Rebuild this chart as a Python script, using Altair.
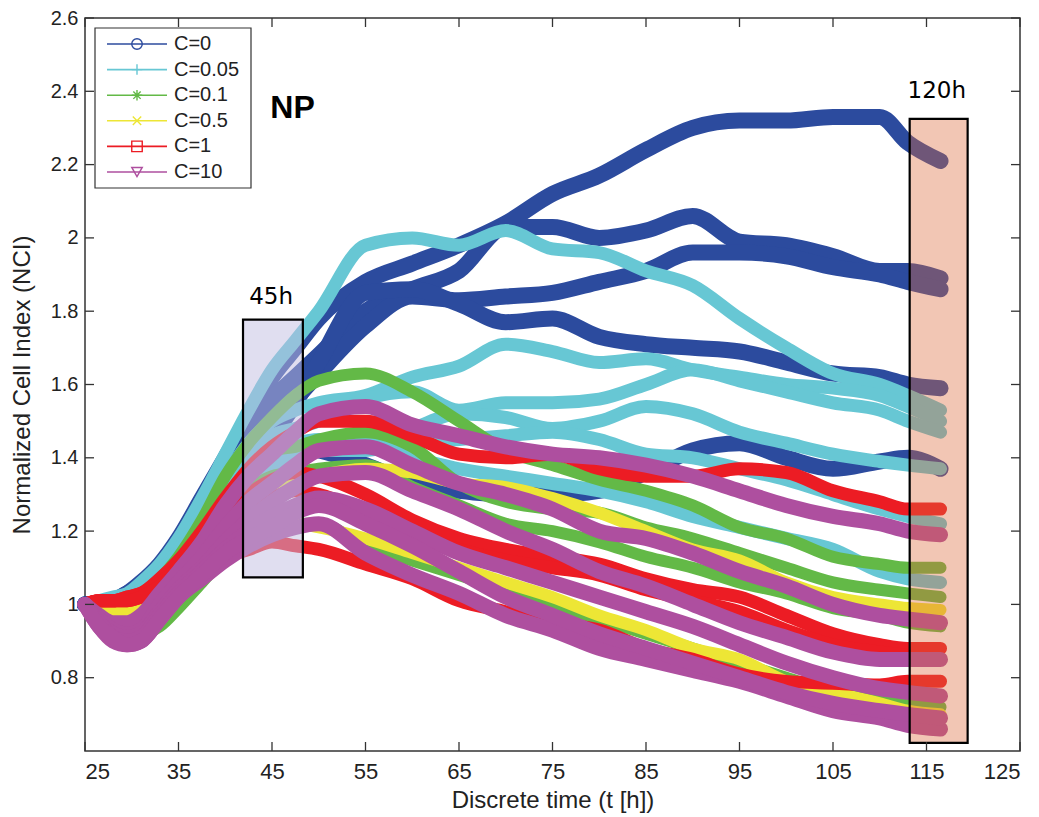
import altair as alt
import pandas as pd

# ---------------- data ----------------
time_h = [25, 26.5, 28, 29.5, 31, 33, 35, 37.5, 40, 42.5, 45, 47.5, 50, 55, 60, 65,
          70, 75, 80, 85, 90, 95, 100, 105, 110, 113, 116.5]

c0_lines = [
    [1.00, 1.00, 1.01, 1.03, 1.06, 1.11, 1.18, 1.29, 1.40, 1.51, 1.62, 1.70, 1.78, 1.88, 1.93, 1.98, 2.04, 2.12, 2.17, 2.24, 2.30, 2.32, 2.32, 2.33, 2.33, 2.26, 2.21],
    [1.00, 1.00, 1.01, 1.03, 1.05, 1.10, 1.17, 1.27, 1.38, 1.48, 1.56, 1.62, 1.68, 1.80, 1.86, 1.91, 2.03, 2.03, 2.00, 2.02, 2.06, 1.99, 1.98, 1.95, 1.91, 1.91, 1.89],
    [1.00, 1.00, 1.01, 1.02, 1.05, 1.09, 1.15, 1.25, 1.35, 1.44, 1.50, 1.56, 1.63, 1.76, 1.84, 1.83, 1.84, 1.85, 1.88, 1.91, 1.96, 1.96, 1.95, 1.92, 1.90, 1.88, 1.86],
    [1.00, 1.00, 1.01, 1.02, 1.04, 1.08, 1.14, 1.23, 1.33, 1.41, 1.46, 1.55, 1.66, 1.85, 1.86, 1.82, 1.77, 1.78, 1.73, 1.71, 1.70, 1.69, 1.66, 1.63, 1.62, 1.60, 1.59],
    [1.00, 1.00, 1.01, 1.02, 1.04, 1.08, 1.13, 1.22, 1.31, 1.37, 1.42, 1.43, 1.42, 1.38, 1.33, 1.31, 1.30, 1.30, 1.31, 1.36, 1.42, 1.44, 1.40, 1.37, 1.39, 1.40, 1.37],
]
c005_lines = [
    [1.00, 1.01, 1.02, 1.03, 1.06, 1.11, 1.18, 1.29, 1.41, 1.53, 1.64, 1.72, 1.80, 1.98, 2.00, 1.98, 2.02, 1.97, 1.96, 1.91, 1.87, 1.78, 1.70, 1.63, 1.60, 1.57, 1.53],
    [1.00, 1.00, 1.01, 1.02, 1.05, 1.09, 1.15, 1.25, 1.35, 1.44, 1.50, 1.53, 1.55, 1.57, 1.62, 1.65, 1.71, 1.69, 1.66, 1.67, 1.64, 1.62, 1.60, 1.59, 1.57, 1.54, 1.50],
    [1.00, 1.00, 1.01, 1.02, 1.04, 1.08, 1.14, 1.23, 1.32, 1.40, 1.46, 1.48, 1.50, 1.56, 1.58, 1.53, 1.55, 1.55, 1.56, 1.60, 1.64, 1.61, 1.58, 1.55, 1.53, 1.50, 1.47],
    [1.00, 1.00, 1.01, 1.02, 1.04, 1.08, 1.13, 1.22, 1.30, 1.37, 1.42, 1.44, 1.45, 1.44, 1.48, 1.52, 1.51, 1.48, 1.50, 1.54, 1.52, 1.47, 1.44, 1.41, 1.39, 1.38, 1.37],
    [1.00, 1.00, 1.01, 1.02, 1.04, 1.07, 1.12, 1.20, 1.28, 1.35, 1.40, 1.41, 1.42, 1.42, 1.44, 1.45, 1.46, 1.47, 1.45, 1.41, 1.40, 1.37, 1.34, 1.30, 1.26, 1.24, 1.22],
    [1.00, 1.00, 1.01, 1.02, 1.04, 1.07, 1.12, 1.19, 1.27, 1.33, 1.37, 1.40, 1.42, 1.43, 1.40, 1.37, 1.35, 1.33, 1.31, 1.28, 1.24, 1.21, 1.18, 1.15, 1.09, 1.07, 1.06],
]
c01_lines = [
    [1.00, 1.00, 1.00, 1.01, 1.03, 1.07, 1.13, 1.23, 1.35, 1.44, 1.51, 1.57, 1.61, 1.63, 1.58, 1.50, 1.42, 1.38, 1.34, 1.31, 1.27, 1.21, 1.18, 1.13, 1.11, 1.10, 1.10],
    [1.00, 0.99, 0.98, 0.99, 1.01, 1.05, 1.10, 1.19, 1.28, 1.36, 1.42, 1.43, 1.45, 1.47, 1.43, 1.33, 1.28, 1.26, 1.25, 1.21, 1.18, 1.14, 1.10, 1.06, 1.04, 1.03, 1.02],
    [1.00, 0.98, 0.97, 0.97, 0.99, 1.03, 1.08, 1.16, 1.24, 1.31, 1.35, 1.36, 1.37, 1.38, 1.32, 1.27, 1.22, 1.20, 1.17, 1.13, 1.10, 1.06, 1.03, 0.99, 0.97, 0.95, 0.94],
    [1.00, 0.96, 0.93, 0.92, 0.92, 0.94, 0.99, 1.06, 1.13, 1.18, 1.22, 1.22, 1.22, 1.16, 1.12, 1.08, 1.04, 1.00, 0.96, 0.92, 0.88, 0.84, 0.80, 0.76, 0.74, 0.73, 0.72],
]
c05_lines = [
    [1.00, 0.99, 0.98, 0.98, 1.00, 1.04, 1.09, 1.16, 1.23, 1.28, 1.31, 1.33, 1.35, 1.37, 1.36, 1.33, 1.32, 1.29, 1.25, 1.20, 1.15, 1.12, 1.06, 1.02, 1.00, 0.99, 0.985],
    [1.00, 0.98, 0.96, 0.95, 0.96, 0.99, 1.04, 1.10, 1.16, 1.20, 1.22, 1.22, 1.21, 1.18, 1.14, 1.10, 1.06, 1.02, 0.97, 0.93, 0.88, 0.85, 0.79, 0.76, 0.73, 0.71, 0.70],
]
c1_lines = [
    [1.00, 1.01, 1.01, 1.02, 1.03, 1.07, 1.12, 1.20, 1.29, 1.37, 1.43, 1.47, 1.50, 1.50, 1.46, 1.41, 1.40, 1.41, 1.37, 1.35, 1.35, 1.37, 1.36, 1.31, 1.28, 1.26, 1.26],
    [1.00, 1.01, 1.01, 1.01, 1.02, 1.04, 1.07, 1.10, 1.13, 1.15, 1.17, 1.16, 1.15, 1.11, 1.07, 1.01, 0.98, 0.95, 0.93, 0.88, 0.85, 0.81, 0.79, 0.785, 0.78, 0.79, 0.79],
    [1.00, 1.01, 1.01, 1.02, 1.03, 1.06, 1.10, 1.17, 1.24, 1.30, 1.34, 1.36, 1.35, 1.30, 1.23, 1.18, 1.15, 1.13, 1.11, 1.07, 1.04, 1.02, 0.97, 0.92, 0.89, 0.88, 0.88],
    [1.00, 1.01, 1.01, 1.01, 1.02, 1.05, 1.09, 1.15, 1.21, 1.26, 1.29, 1.31, 1.30, 1.25, 1.19, 1.15, 1.12, 1.10, 1.08, 1.04, 1.01, 0.98, 0.93, 0.89, 0.87, 0.86, 0.85],
]
c10_lines = [
    [1.00, 0.97, 0.95, 0.95, 0.97, 1.03, 1.09, 1.17, 1.27, 1.35, 1.41, 1.47, 1.52, 1.54, 1.49, 1.46, 1.43, 1.41, 1.40, 1.38, 1.35, 1.31, 1.27, 1.24, 1.22, 1.20, 1.19],
    [1.00, 0.96, 0.93, 0.92, 0.93, 1.00, 1.06, 1.13, 1.21, 1.28, 1.33, 1.38, 1.42, 1.43, 1.38, 1.33, 1.30, 1.26, 1.20, 1.18, 1.14, 1.09, 1.05, 1.00, 0.97, 0.96, 0.95],
    [1.00, 0.95, 0.92, 0.91, 0.92, 0.98, 1.04, 1.10, 1.17, 1.23, 1.28, 1.32, 1.35, 1.36, 1.31, 1.26, 1.20, 1.15, 1.09, 1.05, 1.00, 0.95, 0.91, 0.87, 0.85, 0.85, 0.85],
    [1.00, 0.94, 0.90, 0.89, 0.90, 0.96, 1.02, 1.07, 1.12, 1.16, 1.19, 1.21, 1.22, 1.14, 1.08, 1.03, 0.97, 0.93, 0.88, 0.85, 0.82, 0.79, 0.75, 0.71, 0.69, 0.67, 0.66],
    [1.00, 0.95, 0.91, 0.90, 0.91, 0.97, 1.03, 1.09, 1.15, 1.20, 1.24, 1.27, 1.29, 1.26, 1.20, 1.14, 1.10, 1.06, 1.02, 0.98, 0.94, 0.89, 0.84, 0.80, 0.77, 0.76, 0.75],
    [1.00, 0.94, 0.91, 0.89, 0.90, 0.96, 1.02, 1.08, 1.14, 1.18, 1.21, 1.25, 1.27, 1.22, 1.16, 1.09, 1.02, 0.97, 0.92, 0.88, 0.84, 0.80, 0.76, 0.73, 0.71, 0.70, 0.69],
]

group_labels = ["C=0", "C=0.05", "C=0.1", "C=0.5", "C=1", "C=10"]
group_lines = [c0_lines, c005_lines, c01_lines, c05_lines, c1_lines, c10_lines]
group_colors = ["#2c4b9e", "#67c7d4", "#63b947", "#ede635", "#ec1c24", "#ae4f9f"]
group_widths = [16, 13, 12, 12, 13, 15]
group_shapes = [
    "circle",
    "M-1,0L1,0M0,-1L0,1",
    "M-1,0L1,0M0,-1L0,1M-0.7,-0.7L0.7,0.7M-0.7,0.7L0.7,-0.7",
    "M-0.8,-0.8L0.8,0.8M-0.8,0.8L0.8,-0.8",
    "square",
    "triangle-down",
]

x_ticks = [25, 35, 45, 55, 65, 75, 85, 95, 105, 115, 125]
y_ticks = [0.8, 1.0, 1.2, 1.4, 1.6, 1.8, 2.0, 2.2, 2.4, 2.6]

box_names = ["45h", "120h"]
box_t0 = [41.9, 113.2]
box_t1 = [48.3, 119.4]
box_y0 = [1.074, 0.622]
box_y1 = [1.777, 2.325]
box_fill = ["#c1bde1", "#dd6a3a"]
box_alpha = [0.5, 0.38]
box_label_t = [44.9, 116.1]
box_label_y = [1.84, 2.40]

np_label = "NP"
np_t, np_y = 47.2, 2.355

# ---------------- chart ----------------
W, H = 935, 733
FONT = "Liberation Sans"
xs = alt.Scale(domain=[25, 125], nice=False, zero=False)
ys = alt.Scale(domain=[0.6, 2.6], nice=False, zero=False)
xaxis = alt.Axis(values=x_ticks, ticks=False, domain=False, grid=False,
                 title="Discrete time (t [h])", labelPadding=10, format="d",
                 labelFontSize=22,
                 titleY=49, titleBaseline="middle")
yaxis = alt.Axis(values=y_ticks, ticks=False, domain=False, grid=False,
                 title="Normalized Cell Index (NCI)", labelPadding=7, format=".2~f",
                 labelFontSize=20,
                 titleX=-63, titleY=H / 2, titleAlign="center", titleBaseline="middle")

layers = []
for g, lines, col, sw in zip(group_labels, group_lines, group_colors, group_widths):
    rows = []
    for i, s in enumerate(lines):
        for t, v in zip(time_h, s):
            rows.append({"t": t, "nci": v, "id": f"{g}#{i}"})
    df = pd.DataFrame(rows)
    layers.append(
        alt.Chart(df).mark_line(color=col, strokeWidth=sw, interpolate="monotone",
                                strokeCap="round", strokeJoin="round").encode(
            x=alt.X("t:Q", scale=xs, axis=xaxis),
            y=alt.Y("nci:Q", scale=ys, axis=yaxis),
            detail="id:N",
        )
    )

boxes = pd.DataFrame({"name": box_names, "t0": box_t0, "t1": box_t1, "y0": box_y0,
                      "y1": box_y1, "lt": box_label_t, "ly": box_label_y})
for i in range(len(box_names)):
    b = boxes.iloc[[i]]
    layers.append(
        alt.Chart(b).mark_rect(fill=box_fill[i], fillOpacity=box_alpha[i], stroke="black",
                               strokeWidth=2.2).encode(
            x=alt.X("t0:Q", scale=xs, axis=xaxis), x2="t1:Q",
            y=alt.Y("y0:Q", scale=ys, axis=yaxis), y2="y1:Q")
    )
layers.append(
    alt.Chart(boxes).mark_text(font="DejaVu Sans", fontSize=23, color="black",
                               align="center", baseline="middle").encode(
        x=alt.X("lt:Q", scale=xs, axis=xaxis), y=alt.Y("ly:Q", scale=ys, axis=yaxis),
        text="name:N")
)
layers.append(
    alt.Chart(pd.DataFrame({"t": [np_t], "y": [np_y], "s": [np_label]})).mark_text(
        font=FONT, fontSize=32, fontWeight="bold", color="black", align="center",
        baseline="middle").encode(
        x=alt.X("t:Q", scale=xs, axis=xaxis), y=alt.Y("y:Q", scale=ys, axis=yaxis),
        text="s:N")
)

# inward tick marks (MATLAB style)
TL = 9
ydf = pd.DataFrame({"v": y_ticks})
xdf = pd.DataFrame({"v": x_ticks})
tick_style = dict(color="#333", strokeWidth=1.3)
layers.append(alt.Chart(ydf).mark_rule(**tick_style).encode(
    y=alt.Y("v:Q", scale=ys, axis=yaxis), x=alt.value(0), x2=alt.value(TL)))
layers.append(alt.Chart(ydf).mark_rule(**tick_style).encode(
    y=alt.Y("v:Q", scale=ys, axis=yaxis), x=alt.value(W - TL), x2=alt.value(W)))
layers.append(alt.Chart(xdf).mark_rule(**tick_style).encode(
    x=alt.X("v:Q", scale=xs, axis=xaxis), y=alt.value(H - TL), y2=alt.value(H)))
layers.append(alt.Chart(xdf).mark_rule(**tick_style).encode(
    x=alt.X("v:Q", scale=xs, axis=xaxis), y=alt.value(0), y2=alt.value(TL)))

# legend box (drawn inside the plot, like MATLAB)
one = pd.DataFrame({"a": [0]})
layers.append(alt.Chart(one).mark_rect(fill="white", stroke="#333", strokeWidth=1.2).encode(
    x=alt.value(10), x2=alt.value(166), y=alt.value(10), y2=alt.value(170)))
for i, (lab, col, shp) in enumerate(zip(group_labels, group_colors, group_shapes)):
    yy = 26 + 25.6 * i
    layers.append(alt.Chart(one).mark_rule(color=col, strokeWidth=1.6).encode(
        x=alt.value(22), x2=alt.value(82), y=alt.value(yy)))
    layers.append(alt.Chart(one).mark_point(shape=shp, filled=False, color=col, size=110,
                                            strokeWidth=1.4, opacity=1).encode(
        x=alt.value(52), y=alt.value(yy)))
    layers.append(alt.Chart(one).mark_text(font=FONT, fontSize=20, color="#222",
                                           align="left", baseline="middle").encode(
        x=alt.value(89), y=alt.value(yy), text=alt.value(lab)))

chart = alt.layer(*layers).properties(
    width=W, height=H,
    autosize=alt.AutoSizeParams(type="none"),
    padding={"left": 77, "top": 10, "right": 11, "bottom": 66},
).configure_view(stroke="#333", strokeWidth=1.5).configure_axis(
    labelFont=FONT, labelColor="#222",
    titleFont=FONT, titleFontSize=24, titleFontWeight="normal", titleColor="#222",
)

chart.save("out.html", embed_options={"renderer": "svg", "actions": False})
